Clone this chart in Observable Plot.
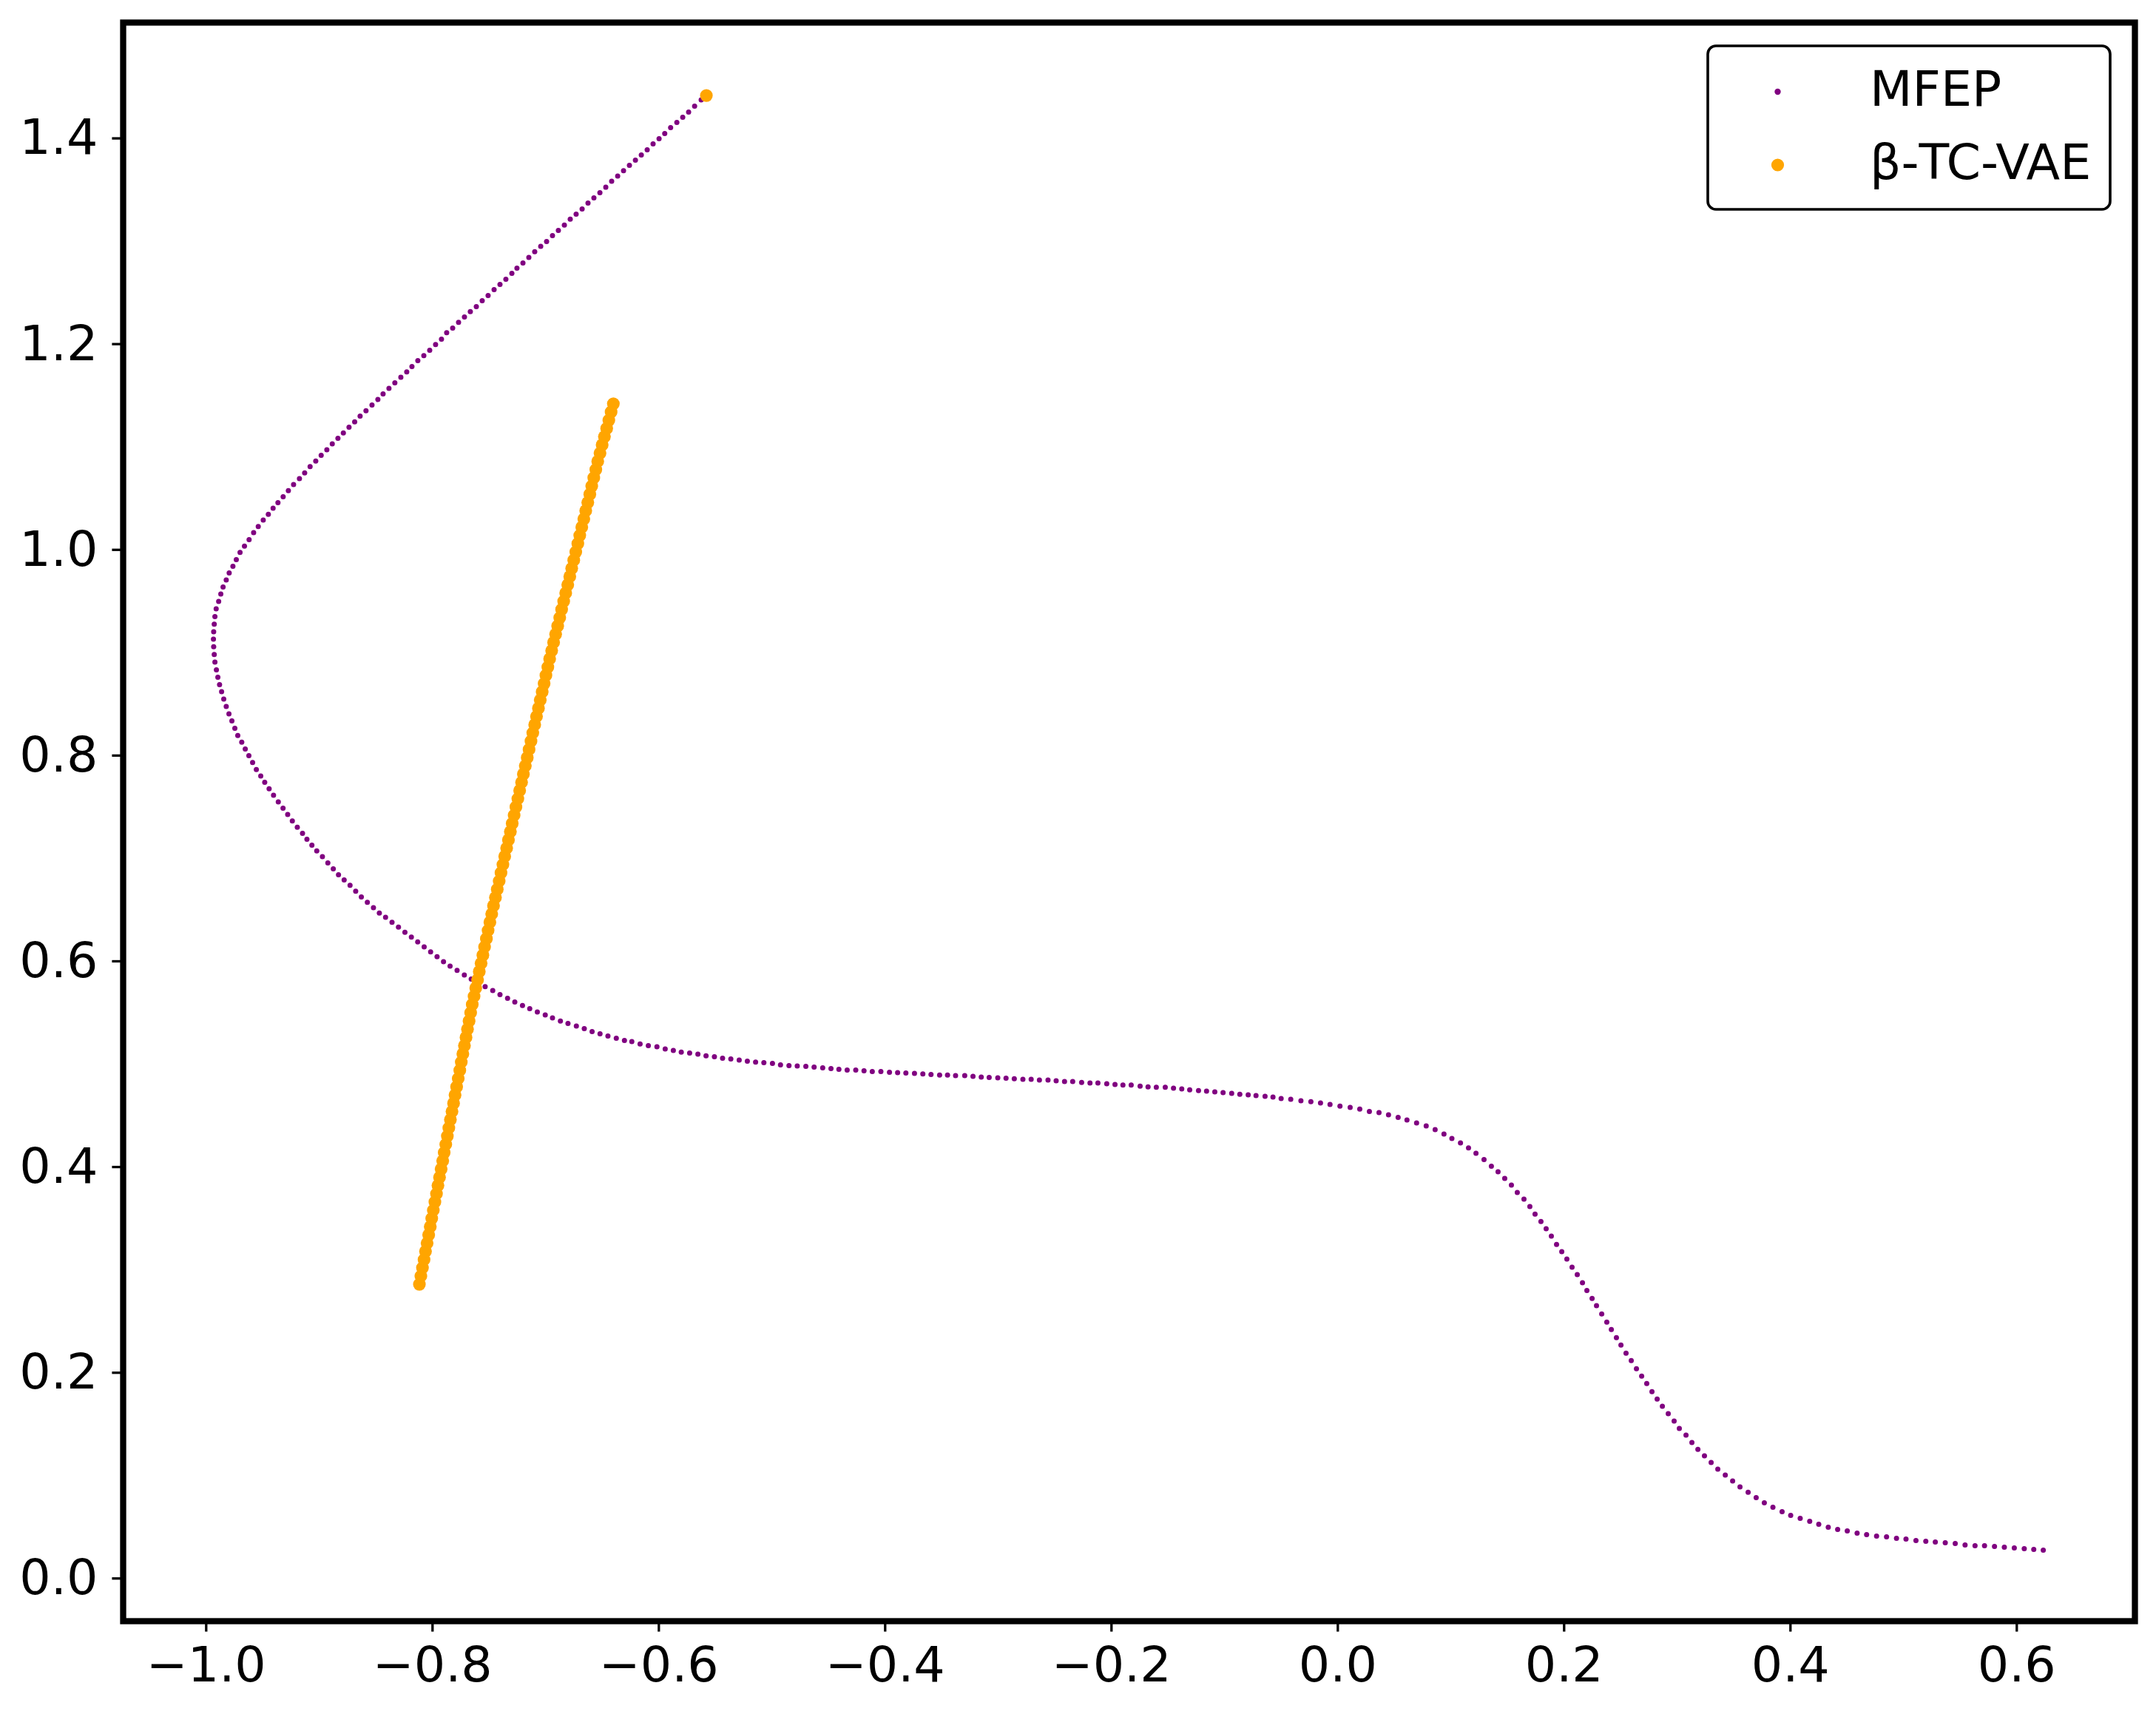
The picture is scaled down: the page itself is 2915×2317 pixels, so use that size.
<!DOCTYPE html>
<html>
<head>
<meta charset="utf-8">
<script src="https://cdn.jsdelivr.net/npm/d3@7"></script>
<script src="https://cdn.jsdelivr.net/npm/@observablehq/plot@0.6"></script>
<style>
  html, body { margin: 0; padding: 0; background: #fff; }
  #wrap { position: relative; width: 2915px; height: 2317px; }
  #wrap svg { display: block; }
  #legend { position: absolute; left: 0; top: 0; pointer-events: none; }
</style>
</head>
<body>
<div id="wrap"></div>
<script>
// ---- data ----
const seriesNames = ["MFEP", "β-TC-VAE"];
const seriesColors = ["#800080", "#FFA500"];

const xTicks = [-1.0, -0.8, -0.6, -0.4, -0.2, 0.0, 0.2, 0.4, 0.6];
const yTicks = [0.0, 0.2, 0.4, 0.6, 0.8, 1.0, 1.2, 1.4];

// MFEP: upper branch
const mfepUpper = [
[-0.5626,1.4374],[-0.5684,1.4314],[-0.5737,1.4256],[-0.5789,1.4206],[-0.5841,1.4155],[-0.5896,1.4105],
[-0.5948,1.4048],[-0.5998,1.3997],[-0.6051,1.3947],[-0.6103,1.3889],[-0.6155,1.3839],[-0.6207,1.3789],
[-0.6260,1.3738],[-0.6312,1.3686],[-0.6364,1.3633],[-0.6417,1.3583],[-0.6469,1.3525],[-0.6521,1.3472],
[-0.6574,1.3422],[-0.6626,1.3372],[-0.6678,1.3314],[-0.6731,1.3264],[-0.6783,1.3214],[-0.6835,1.3158],
[-0.6888,1.3105],[-0.6940,1.3055],[-0.6992,1.2998],[-0.7044,1.2950],[-0.7097,1.2899],[-0.7149,1.2842],
[-0.7201,1.2789],[-0.7254,1.2739],[-0.7299,1.2688],[-0.7352,1.2631],[-0.7404,1.2581],[-0.7456,1.2530],
[-0.7509,1.2473],[-0.7561,1.2422],[-0.7613,1.2365],[-0.7666,1.2315],[-0.7718,1.2264],[-0.7770,1.2211],
[-0.7822,1.2156],[-0.7875,1.2111],[-0.7921,1.2048],[-0.7973,1.1996],[-0.8025,1.1940],[-0.8077,1.1888],
[-0.8130,1.1840],[-0.8182,1.1782],[-0.8228,1.1730],[-0.8280,1.1677],[-0.8333,1.1624],[-0.8385,1.1569],
[-0.8437,1.1516],[-0.8483,1.1461],[-0.8535,1.1408],
[-0.8588,1.1353],[-0.8640,1.1300],[-0.8688,1.1245],[-0.8738,1.1193],[-0.8788,1.1137],[-0.8836,1.1085],
[-0.8886,1.1030],[-0.8934,1.0972],[-0.8984,1.0919],[-0.9032,1.0864],[-0.9082,1.0809],[-0.9130,1.0749],
[-0.9176,1.0692],[-0.9228,1.0634],[-0.9274,1.0576],[-0.9320,1.0517],[-0.9366,1.0459],[-0.9409,1.0404],
[-0.9451,1.0346],[-0.9496,1.0289],[-0.9540,1.0226],[-0.9581,1.0167],[-0.9621,1.0099],[-0.9662,1.0037]
];
// MFEP: bend
const mfepBend = [
[-0.9701,0.9975],[-0.9734,0.9905],[-0.9764,0.9840],[-0.9797,0.9776],[-0.9823,0.9707],[-0.9851,0.9639],
[-0.9871,0.9570],[-0.9890,0.9498],[-0.9912,0.9426],[-0.9923,0.9351],[-0.9929,0.9277],[-0.9934,0.9203],
[-0.9936,0.9131],[-0.9934,0.9059],[-0.9929,0.8982],[-0.9923,0.8908],[-0.9910,0.8834],[-0.9897,0.8762],
[-0.9882,0.8690],[-0.9864,0.8621],[-0.9845,0.8549],[-0.9823,0.8477],[-0.9799,0.8405],[-0.9773,0.8337],
[-0.9747,0.8265],[-0.9721,0.8196],[-0.9686,0.8131],[-0.9655,0.8064],[-0.9623,0.7999],[-0.9590,0.7932],
[-0.9557,0.7865],[-0.9518,0.7801],[-0.9483,0.7740],[-0.9444,0.7678],[-0.9405,0.7614],[-0.9363,0.7549],
[-0.9321,0.7489],[-0.9280,0.7427],[-0.9239,0.7364],[-0.9195,0.7304],[-0.9149,0.7244],[-0.9110,0.7187],
[-0.9066,0.7129],[-0.9023,0.7074],[-0.8973,0.7017],[-0.8925,0.6957],[-0.8877,0.6899],[-0.8831,0.6842],
[-0.8781,0.6791],[-0.8729,0.6739],[-0.8679,0.6681],[-0.8629,0.6626],[-0.8576,0.6573],[-0.8522,0.6521],
[-0.8470,0.6470],[-0.8415,0.6427],
[-0.8358,0.6379],[-0.8301,0.6332],[-0.8244,0.6283],[-0.8187,0.6235],[-0.8131,0.6188],[-0.8074,0.6140],
[-0.8017,0.6091],[-0.7960,0.6044]
];
// MFEP: plateau
const mfepPlateau = [
[-0.7903,0.5996],[-0.7845,0.5953],[-0.7783,0.5912],[-0.7719,0.5866],[-0.7658,0.5827],[-0.7600,0.5789],
[-0.7535,0.5753],[-0.7468,0.5715],[-0.7404,0.5676],[-0.7337,0.5640],[-0.7273,0.5605],[-0.7205,0.5571],
[-0.7141,0.5540],[-0.7074,0.5507],[-0.7004,0.5478],[-0.6940,0.5449],[-0.6870,0.5420],[-0.6803,0.5396],
[-0.6729,0.5370],[-0.6659,0.5346],[-0.6590,0.5317],[-0.6520,0.5295],[-0.6450,0.5274],[-0.6376,0.5252],
[-0.6304,0.5230],[-0.6239,0.5219],[-0.6166,0.5197],[-0.6093,0.5180],[-0.6017,0.5169],[-0.5944,0.5147],
[-0.5872,0.5133],[-0.5802,0.5118],[-0.5728,0.5108],[-0.5655,0.5097],[-0.5583,0.5082],[-0.5509,0.5072],
[-0.5437,0.5058],[-0.5364,0.5051],[-0.5290,0.5039],[-0.5218,0.5029],[-0.5145,0.5020],[-0.5072,0.5015],
[-0.4996,0.5008],[-0.4925,0.4993],[-0.4850,0.4986],[-0.4777,0.4982],[-0.4701,0.4979],[-0.4628,0.4972],
[-0.4552,0.4964],[-0.4479,0.4957],[-0.4409,0.4950],[-0.4336,0.4943],[-0.4260,0.4943],[-0.4187,0.4936],
[-0.4114,0.4928],[-0.4038,0.4928],[-0.3962,0.4921],[-0.3890,0.4917],[-0.3817,0.4914],[-0.3741,0.4910],
[-0.3667,0.4905],[-0.3595,0.4900],[-0.3519,0.4895],[-0.3449,0.4895],[-0.3378,0.4888],
[-0.3297,0.4888],[-0.3224,0.4881],[-0.3151,0.4874],[-0.3081,0.4871],[-0.3005,0.4867],[-0.2932,0.4864],
[-0.2859,0.4859],[-0.2783,0.4852],[-0.2710,0.4852],[-0.2637,0.4845],[-0.2561,0.4845],[-0.2489,0.4838],
[-0.2415,0.4831],[-0.2343,0.4831],[-0.2264,0.4823],[-0.2190,0.4816],[-0.2120,0.4816],[-0.2042,0.4809],
[-0.1969,0.4802],[-0.1899,0.4797],[-0.1826,0.4797],[-0.1747,0.4787],[-0.1677,0.4780],[-0.1604,0.4775],
[-0.1525,0.4775],[-0.1452,0.4766],[-0.1379,0.4759],[-0.1309,0.4751],[-0.1231,0.4744],[-0.1160,0.4737],
[-0.1087,0.4730],[-0.1014,0.4723],[-0.0938,0.4716],[-0.0866,0.4708],[-0.0792,0.4701],[-0.0723,0.4694],
[-0.0643,0.4687],[-0.0573,0.4680],[-0.0501,0.4665],[-0.0416,0.4658],[-0.0326,0.4644],[-0.0238,0.4636],
[-0.0153,0.4622],[-0.0069,0.4608],[0.0019,0.4593],[0.0109,0.4579],[0.0194,0.4564],[0.0279,0.4540],
[0.0364,0.4529],[0.0448,0.4507],[0.0533,0.4483],[0.0611,0.4457],[0.0696,0.4428],[0.0781,0.4399],
[0.0860,0.4363],[0.0938,0.4320],[0.1008,0.4277],[0.1084,0.4234],[0.1155,0.4186],[0.1221,0.4133]
];
// MFEP: descent and tail
const mfepDescent = [
[0.1292,0.4073],[0.1357,0.4008],[0.1416,0.3953],[0.1475,0.3889],[0.1534,0.3824],[0.1586,0.3752],
[0.1645,0.3687],[0.1697,0.3615],[0.1743,0.3543],[0.1795,0.3471],[0.1841,0.3400],[0.1887,0.3328],
[0.1933,0.3248],[0.1979,0.3177],[0.2024,0.3105],[0.2070,0.3026],[0.2116,0.2954],[0.2162,0.2875],
[0.2201,0.2800],[0.2247,0.2723],[0.2286,0.2652],[0.2332,0.2572],[0.2377,0.2493],[0.2417,0.2421],
[0.2462,0.2342],[0.2502,0.2270],[0.2547,0.2191],[0.2593,0.2119],[0.2639,0.2040],[0.2685,0.1968],
[0.2730,0.1896],[0.2776,0.1817],[0.2822,0.1745],[0.2868,0.1674],[0.2920,0.1602],[0.2972,0.1530],
[0.3018,0.1458],[0.3077,0.1393],[0.3129,0.1321],[0.3182,0.1256],[0.3240,0.1192],[0.3299,0.1127],
[0.3358,0.1062],[0.3424,0.1005],[0.3489,0.0947],[0.3554,0.0890],[0.3626,0.0839],
[0.3697,0.0786],[0.3769,0.0736],[0.3845,0.0693],[0.3926,0.0649],[0.4002,0.0613],[0.4086,0.0585],
[0.4170,0.0556],[0.4250,0.0527],[0.4334,0.0498],[0.4417,0.0477],[0.4502,0.0462],[0.4589,0.0441],
[0.4673,0.0426],[0.4761,0.0412],[0.4849,0.0405],[0.4937,0.0391],[0.5021,0.0383],[0.5109,0.0369],
[0.5196,0.0362],[0.5280,0.0355],[0.5368,0.0347],[0.5456,0.0340],[0.5543,0.0326],[0.5631,0.0319],
[0.5715,0.0319],[0.5803,0.0311],[0.5890,0.0304],[0.5978,0.0297],[0.6066,0.0290],[0.6150,0.0283],
[0.6234,0.0275]
];

// beta-TC-VAE latent traversal
const vaeTrail = [
[-0.8116,0.286],[-0.8103,0.294],[-0.8089,0.302],[-0.8075,0.310],[-0.8062,0.318],[-0.8048,0.326],
[-0.8034,0.334],[-0.8020,0.342],[-0.8007,0.350],[-0.7993,0.358],[-0.7979,0.366],[-0.7965,0.374],
[-0.7952,0.382],[-0.7938,0.390],[-0.7924,0.398],[-0.7910,0.406],[-0.7897,0.414],[-0.7883,0.422],
[-0.7869,0.430],[-0.7856,0.438],[-0.7842,0.446],[-0.7828,0.454],[-0.7814,0.462],[-0.7801,0.470],
[-0.7787,0.478],[-0.7773,0.486],[-0.7759,0.494],[-0.7746,0.502],[-0.7732,0.510],[-0.7718,0.518],
[-0.7704,0.526],[-0.7691,0.534],[-0.7677,0.542],[-0.7663,0.550],[-0.7649,0.558],[-0.7633,0.566],
[-0.7618,0.574],[-0.7602,0.582],[-0.7587,0.590],[-0.7571,0.598],[-0.7555,0.606],[-0.7540,0.614],
[-0.7524,0.622],[-0.7509,0.630],[-0.7493,0.638],[-0.7477,0.646],[-0.7461,0.654],[-0.7444,0.662],
[-0.7428,0.670],[-0.7411,0.678],[-0.7395,0.686],[-0.7378,0.694],[-0.7362,0.702],[-0.7345,0.710],
[-0.7329,0.718],[-0.7312,0.726],[-0.7296,0.734],[-0.7279,0.742],[-0.7263,0.750],[-0.7246,0.758],
[-0.7230,0.766],[-0.7213,0.774],[-0.7197,0.782],[-0.7180,0.790],[-0.7163,0.798],[-0.7147,0.806],
[-0.7130,0.814],[-0.7114,0.822],[-0.7097,0.830],[-0.7081,0.838],[-0.7064,0.846],[-0.7048,0.854],
[-0.7031,0.862],[-0.7014,0.870],[-0.6998,0.878],[-0.6981,0.886],[-0.6965,0.894],[-0.6947,0.902],
[-0.6930,0.910],[-0.6912,0.918],[-0.6894,0.926],[-0.6876,0.934],[-0.6859,0.942],[-0.6841,0.950],
[-0.6823,0.958],[-0.6805,0.966],[-0.6787,0.974],[-0.6770,0.982],[-0.6752,0.990],[-0.6734,0.998],
[-0.6716,1.006],[-0.6699,1.014],[-0.6681,1.022],[-0.6663,1.030],[-0.6646,1.038],[-0.6628,1.046],
[-0.6610,1.054],[-0.6593,1.062],[-0.6575,1.070],[-0.6557,1.078],[-0.6540,1.086],[-0.6520,1.094],
[-0.6501,1.102],[-0.6481,1.110],[-0.6461,1.118],[-0.6442,1.126],[-0.6422,1.134],[-0.6402,1.142]
];
const vaeIsolated = [[-0.5580,1.4417]];

// ---- build ----
const toRows = (arr) => arr.map(([x, y]) => ({x, y}));
const mfep = toRows([...mfepUpper, ...mfepBend, ...mfepPlateau, ...mfepDescent]);
const vae = toRows([...vaeTrail, ...vaeIsolated]);

const fmt = d => (d < 0 ? "\u2212" : "") + Math.abs(d).toFixed(1);

const chart = Plot.plot({
  width: 2915,
  height: 2317,
  marginLeft: 166,
  marginRight: 29,
  marginTop: 30,
  marginBottom: 126,
  x: {domain: [-1.0734, 0.7044]},
  y: {domain: [-0.0415, 1.5126]},
  style: {fontFamily: "'DejaVu Sans', sans-serif", fontSize: "66.7px", background: "#fff", color: "#000"},
  marks: [
    Plot.dot(mfep, {x: "x", y: "y", r: 3.5, fill: seriesColors[0], stroke: "none"}),
    Plot.dot(vae, {x: "x", y: "y", r: 8.6, fill: seriesColors[1], stroke: "none"}),
    Plot.frame({stroke: "#000", strokeWidth: 8.3}),
    Plot.axisX({ticks: xTicks, tickFormat: fmt, tickSize: 14.6, tickPadding: 20, strokeWidth: 3.3, label: null, fontSize: 66.7}),
    Plot.axisY({ticks: yTicks, tickFormat: fmt, tickSize: 14.6, tickPadding: 19.5, strokeWidth: 3.3, label: null, fontSize: 66.7})
  ]
});
const wrap = document.getElementById("wrap");
wrap.appendChild(chart);

// ---- legend overlay ----
const ns = "http://www.w3.org/2000/svg";
const leg = document.createElementNS(ns, "svg");
leg.setAttribute("id", "legend");
leg.setAttribute("width", 2915);
leg.setAttribute("height", 2317);
const box = document.createElementNS(ns, "rect");
box.setAttribute("x", 2309); box.setAttribute("y", 62);
box.setAttribute("width", 544); box.setAttribute("height", 221);
box.setAttribute("rx", 11); box.setAttribute("fill", "#fff");
box.setAttribute("stroke", "#000"); box.setAttribute("stroke-width", 3.6);
leg.appendChild(box);
const legR = [4.2, 8.6];
seriesNames.forEach((name, i) => {
  const cy = 124 + i * 99;
  const c = document.createElementNS(ns, "circle");
  c.setAttribute("cx", 2403.5); c.setAttribute("cy", cy);
  c.setAttribute("r", legR[i]); c.setAttribute("fill", seriesColors[i]);
  leg.appendChild(c);
  const t = document.createElementNS(ns, "text");
  t.setAttribute("x", 2528); t.setAttribute("y", cy + 19);
  t.setAttribute("font-family", "'DejaVu Sans', sans-serif");
  t.setAttribute("font-size", "66.7px");
  t.setAttribute("fill", "#000");
  t.textContent = name;
  leg.appendChild(t);
});
wrap.appendChild(leg);
</script>
</body>
</html>
